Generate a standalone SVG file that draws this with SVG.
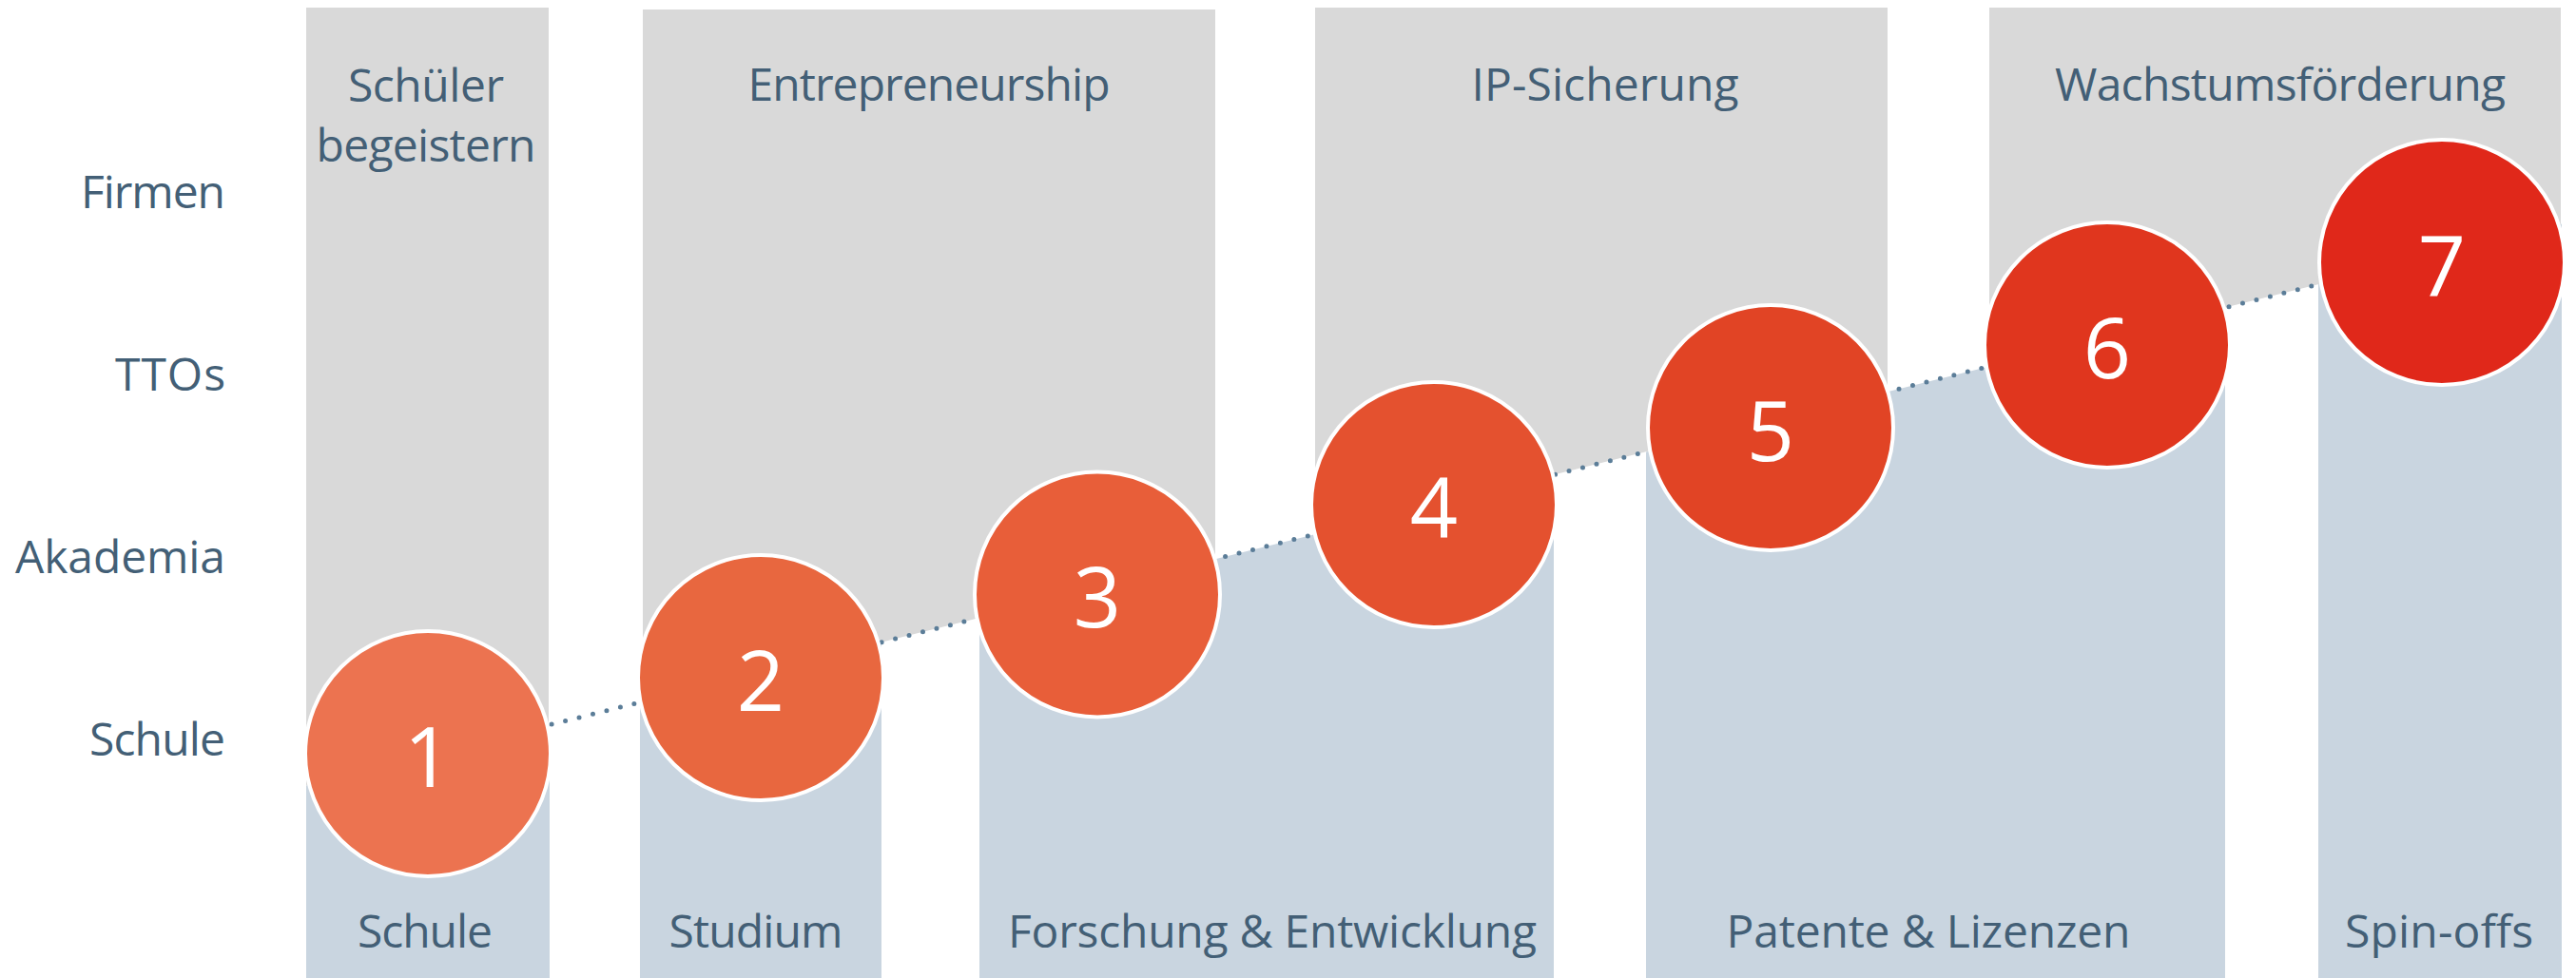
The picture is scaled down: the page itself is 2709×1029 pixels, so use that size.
<svg xmlns="http://www.w3.org/2000/svg" width="2709" height="1029" viewBox="0 0 2709 1029">
  <style>
    .lbl { font-family: "Open Sans", "Noto Sans", "DejaVu Sans", sans-serif; font-size: 48px; fill: #435F76; }
    .mid { text-anchor: middle; }
    .end { text-anchor: end; }
    .num { font-family: "Open Sans", "Noto Sans", "DejaVu Sans", sans-serif; font-size: 88px; fill: #FFFFFF; text-anchor: middle; }
    .top { fill: #D9D9D9; }
    .bot { fill: #C9D5E0; }
    .circ { stroke: #FFFFFF; stroke-width: 4; }
    .dots { fill: none; stroke: #5B7D98; stroke-width: 5; stroke-linecap: round; stroke-dasharray: 0 14.9; }
  </style>
  <rect width="2709" height="1029" fill="#FFFFFF"/>

  <g id="axis-labels">
    <text class="lbl end" x="237" y="219" textLength="152">Firmen</text>
    <text class="lbl end" x="237" y="411" textLength="116">TTOs</text>
    <text class="lbl end" x="237" y="603" textLength="221">Akademia</text>
    <text class="lbl end" x="237" y="795" textLength="143">Schule</text>
  </g>

  <g id="top-1">
    <polygon class="top" points="322,8 577,8 577,762.8 322,826.4"/>
    <text class="lbl mid" x="448" y="107" textLength="164">Schüler</text>
    <text class="lbl mid" x="448" y="170" textLength="231">begeistern</text>
  </g>
  <g id="top-2">
    <polygon class="top" points="676,10 1278,10 1278,588.2 676,738.2"/>
    <text class="lbl mid" x="977" y="106" textLength="381">Entrepreneurship</text>
  </g>
  <g id="top-3">
    <polygon class="top" points="1383,8 1985,8 1985,412 1383,562.1"/>
    <text class="lbl mid" x="1688" y="106" textLength="281">IP-Sicherung</text>
  </g>
  <g id="top-4">
    <polygon class="top" points="2092,8 2693,8 2693,235.7 2092,385.4"/>
    <text class="lbl mid" x="2398" y="106" textLength="474">Wachstumsförderung</text>
  </g>

  <g id="bottom-1">
    <polygon class="bot" points="322,826.4 578,762.6 578,1029 322,1029"/>
    <text class="lbl mid" x="447" y="997" textLength="142">Schule</text>
  </g>
  <g id="bottom-2">
    <polygon class="bot" points="673,738.9 927,675.6 927,1029 673,1029"/>
    <text class="lbl mid" x="795" y="997" textLength="183">Studium</text>
  </g>
  <g id="bottom-3">
    <polygon class="bot" points="1030,650 1634,499.5 1634,1029 1030,1029"/>
    <text class="lbl mid" x="1338" y="997" textLength="556">Forschung &amp; Entwicklung</text>
  </g>
  <g id="bottom-4">
    <polygon class="bot" points="1731,475.4 2340,323.7 2340,1029 1731,1029"/>
    <text class="lbl mid" x="2028" y="997" textLength="425">Patente &amp; Lizenzen</text>
  </g>
  <g id="bottom-5">
    <polygon class="bot" points="2438,299.3 2694,235.5 2694,1029 2438,1029"/>
    <text class="lbl mid" x="2565" y="997" textLength="198">Spin-offs</text>
  </g>

  <g id="connectors">
    <line class="dots" x1="450" y1="794.5" x2="2568" y2="266.9"/>
  </g>

  <g id="step-1">
    <circle class="circ" cx="450" cy="793" r="129" fill="#EC7350"/>
    <text class="num" x="450" y="828">1</text>
  </g>
  <g id="step-2">
    <circle class="circ" cx="800" cy="713" r="129" fill="#E8673F"/>
    <text class="num" x="800" y="748">2</text>
  </g>
  <g id="step-3">
    <circle class="circ" cx="1154" cy="625.5" r="129" fill="#E85E39"/>
    <text class="num" x="1154" y="660">3</text>
  </g>
  <g id="step-4">
    <circle class="circ" cx="1508" cy="531" r="129" fill="#E4512F"/>
    <text class="num" x="1508" y="566">4</text>
  </g>
  <g id="step-5">
    <circle class="circ" cx="1862" cy="450" r="129" fill="#E14425"/>
    <text class="num" x="1862" y="485">5</text>
  </g>
  <g id="step-6">
    <circle class="circ" cx="2216" cy="363" r="129" fill="#E0361E"/>
    <text class="num" x="2216" y="398">6</text>
  </g>
  <g id="step-7">
    <circle class="circ" cx="2568" cy="276" r="129" fill="#E0281A"/>
    <text class="num" x="2568" y="311">7</text>
  </g>
</svg>
